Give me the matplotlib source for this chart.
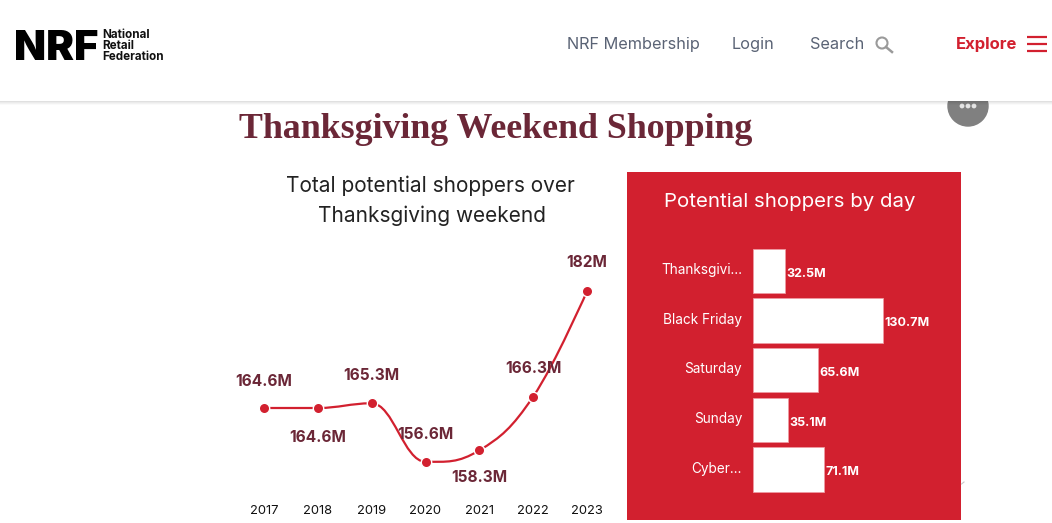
import matplotlib
matplotlib.use('Agg')
import matplotlib.pyplot as plt
from matplotlib.patches import Rectangle, Circle, PathPatch
from matplotlib.path import Path

plt.rcParams['font.family'] = ['Inter', 'DejaVu Sans']

# data
years = ['2017', '2018', '2019', '2020', '2021', '2022', '2023']
shoppers = [164.6, 164.6, 165.3, 156.6, 158.3, 166.3, 182]
shopper_labels = ['164.6M', '164.6M', '165.3M', '156.6M', '158.3M', '166.3M', '182M']
label_offsets = [-28, 28, -29, -29, 26, -30, -30]

days = ['Thanksgivi...', 'Black Friday', 'Saturday', 'Sunday', 'Cyber...']
day_values = [32.5, 130.7, 65.6, 35.1, 71.1]
day_labels = ['32.5M', '130.7M', '65.6M', '35.1M', '71.1M']

RED = '#d2202f'
MAROON = '#6b2737'
NAV = '#5a6375'
W, H = 1052, 523


def px_axes(fig, left, top, right, bottom, **kw):
    # axes from page pixels, y counted from the top
    return fig.add_axes([left / W, 1 - bottom / H, (right - left) / W, (bottom - top) / H], **kw)


fig = plt.figure(figsize=(W / 100, H / 100), dpi=100, facecolor='white')

# page layer: header, title, panel
page = px_axes(fig, 0, 0, W, H)
page.set_xlim(0, W)
page.set_ylim(H, 0)
page.axis('off')

page.add_patch(Circle((968, 106), 20, color='#808080', zorder=1))
for dx in (-6, 0, 6):
    page.add_patch(Circle((968 + dx, 106), 1.7, color='#e4e4e4', zorder=1.1))

for i, a in enumerate([0.12, 0.08, 0.05, 0.02]):
    page.add_patch(Rectangle((0, 101 + i), W, 1, color='black', alpha=a, lw=0, zorder=2))
page.add_patch(Rectangle((0, 0), W, 101, color='white', lw=0, zorder=2.1))

page.text(14.5, 60.3, 'NRF', fontsize=30, fontweight='black', color='black', va='baseline', zorder=3)
for y, t in zip([38, 49, 60], ['National', 'Retail', 'Federation']):
    page.text(102, y, t, fontsize=8.4, fontweight='bold', color='#111111', va='baseline', zorder=3)

page.text(567, 49, 'NRF Membership', fontsize=11.75, color=NAV, va='baseline', zorder=3)
page.text(732, 49, 'Login', fontsize=11.75, color=NAV, va='baseline', zorder=3)
page.text(810, 49, 'Search', fontsize=11.75, color=NAV, va='baseline', zorder=3)
page.add_patch(Circle((882, 43), 5.5, fill=False, ec='#9a9a9a', lw=1.5, zorder=3))
page.plot([886, 892], [47, 52], color='#9a9a9a', lw=1.8, zorder=3)
page.text(956, 49, 'Explore', fontsize=12, fontweight='bold', color=RED, va='baseline', zorder=3)
for y in (37, 44, 51):
    page.plot([1027, 1047], [y, y], color=RED, lw=1.6, zorder=3, solid_capstyle='butt')

page.text(496, 129, 'Thanksgiving Weekend Shopping', fontsize=25.8, fontweight='bold',
          family='Liberation Serif', color=MAROON, ha='center', va='center', zorder=3)
page.text(430, 186, 'Total potential shoppers over', fontsize=15, color='#222222', ha='center', va='center')
page.text(432, 216, 'Thanksgiving weekend', fontsize=15, color='#222222', ha='center', va='center')

page.add_patch(Rectangle((627, 172), 334, 348, color=RED, lw=0, zorder=1))
page.text(789.5, 202, 'Potential shoppers by day', fontsize=14.7, color='white', ha='center', va='center', zorder=3)
page.plot([961.5, 964], [484, 482], color='#c8c8c8', lw=0.8)

# line chart, one year is 53.8 px and one million is 6.72 px
ax = px_axes(fig, 237, 250, 614, 495)
ax.patch.set_alpha(0)
ax.set_xlim(-0.5, 6.5)
ax.set_ylim(164.6 - 87 / 6.72, 164.6 + 158 / 6.72)
for s in ax.spines.values():
    s.set_visible(False)
ax.set_yticks([])
ax.set_xticks(range(len(years)))
ax.set_xticklabels(years, fontsize=9.3, color='#111111')
ax.tick_params(axis='x', length=0, pad=7.5)

# smooth line as bezier segments between the points, flat at peaks and dips,
# no handle at the two ends of the line
slopes = [0.0] * len(shoppers)
for i in range(1, len(shoppers) - 1):
    if (shoppers[i] - shoppers[i - 1]) * (shoppers[i + 1] - shoppers[i]) > 0:
        slopes[i] = (shoppers[i + 1] - shoppers[i - 1]) / 2
verts = [(0, shoppers[0])]
codes = [Path.MOVETO]
for i in range(len(shoppers) - 1):
    last = i + 1 == len(shoppers) - 1
    verts += [(i + 0.4, shoppers[i] + 0.4 * slopes[i]),
              (i + 1, shoppers[i + 1]) if last else (i + 0.6, shoppers[i + 1] - 0.4 * slopes[i + 1]),
              (i + 1, shoppers[i + 1])]
    codes += [Path.CURVE4] * 3
ax.add_patch(PathPatch(Path(verts, codes), fill=False, ec=RED, lw=1.6))
ax.plot(range(len(shoppers)), shoppers, ls='none', marker='o', ms=7.5, mfc=RED, mec='white', mew=1)
for i, v in enumerate(shoppers):
    ax.annotate(shopper_labels[i], (i, v), xytext=(0, -(label_offsets[i] + 1.5) * 0.72), textcoords='offset points',
                ha='center', va='center', fontsize=11.1, fontweight='bold', color=MAROON)

# bar chart inside the red panel
bx = px_axes(fig, 753.3, 246.2, 961, 494.4)
bx.patch.set_alpha(0)
bx.set_xlim(0, 207.7 / 0.99)
bx.set_ylim(4.5, -0.5)
for s in bx.spines.values():
    s.set_visible(False)
bx.barh(range(len(days)), day_values, height=0.893, color='white', edgecolor='#ee9aa2', linewidth=0.6)
bx.set_xticks([])
bx.set_yticks(range(len(days)))
bx.set_yticklabels(days, fontsize=9.8, color='white', va='bottom')
bx.tick_params(axis='y', length=0, pad=8)
for lab in bx.get_yticklabels():
    lab.set_y(lab.get_position()[1])
    lab.set_verticalalignment('center')
    lab.set_transform(lab.get_transform() + matplotlib.transforms.ScaledTranslation(0, 1 / 100, fig.dpi_scale_trans))
for i, v in enumerate(day_values):
    bx.annotate(day_labels[i], (v, i), xytext=(1, -2), textcoords='offset points',
                ha='left', va='center', fontsize=9, fontweight='bold', color='white')

fig.savefig('out.png', dpi=100)
